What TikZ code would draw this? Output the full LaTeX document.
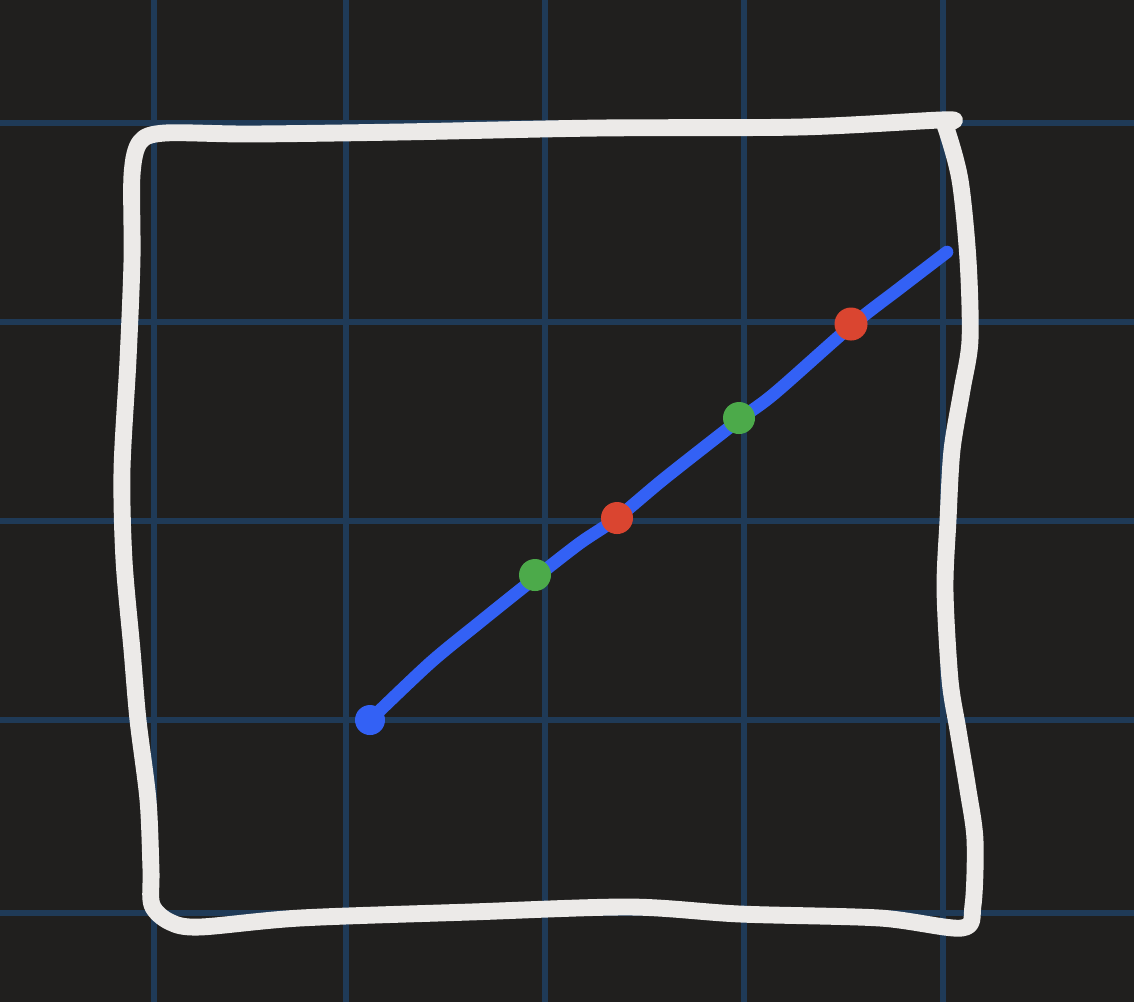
\documentclass[tikz,border=0pt]{standalone}
\usepackage{tikz}

\definecolor{board}{HTML}{201F1E}
\definecolor{gridblue}{HTML}{1F3A57}
\definecolor{chalk}{HTML}{ECEAE8}
\definecolor{penblue}{HTML}{3361F5}
\definecolor{penred}{HTML}{DA4530}
\definecolor{pengreen}{HTML}{4CAA4A}

\tikzset{
	gridline/.style={gridblue, line width=1.7pt},
	frameline/.style={chalk, line width=4.8pt, line cap=round, line join=round},
	segline/.style={penblue, line width=3.6pt, line cap=round, line join=round},
	dot/.style={circle, inner sep=0pt, minimum size=#1}
}

\begin{document}
\begin{tikzpicture}[x=0.01cm, y=-0.01cm]
		\useasboundingbox[fill=board] (0,0) rectangle (1134,1002);
		%
		% grid
		\foreach \gx in {154,346,545,744,943}
			\draw[gridline] (\gx,0) -- (\gx,1002);
		\foreach \gy in {123,322,521,720,913}
			\draw[gridline] (0,\gy) -- (1134,\gy);
		%
		% hand drawn square
		\draw[frameline] plot[smooth, tension=0.5] coordinates {
			(953,121) (940,120) (800,127) (600,128) (400,132) (250,134) (165,133)
			(140,142) (132,175) (132,260) (128,360) (122,470) (124,560)
			(132,650) (138,720) (148,800) (151,870) (152,905) (170,922) (200,927)
			(300,918) (470,912) (630,907) (740,914) (880,918) (962,928)
			(973,905) (975,840) (968,790) (958,730) (950,680) (945,590) (948,520)
			(952,450) (962,390) (970,340) (968,260) (960,180) (946,128) (940,120)};
		%
		% blue segment
		\coordinate (start) at (370,720);
		\coordinate (stop) at (947,252);
		\draw[segline] plot[smooth, tension=0.5] coordinates {
			(370,720) (430,663) (480,622) (535,578) (580,543) (617,518)
			(665,478) (739,420) (775,393) (851,326) (900,288) (947,252)};
		%
		% points on the segment
		\node[dot=0.3cm, fill=penblue] (pA) at (start) {};
		\node[dot=0.32cm, fill=pengreen] (pB) at (535,575) {};
		\node[dot=0.32cm, fill=penred] (pC) at (617,518) {};
		\node[dot=0.32cm, fill=pengreen] (pD) at (739,418) {};
		\node[dot=0.33cm, fill=penred] (pE) at (851,324) {};
	\end{tikzpicture}
\end{document}
